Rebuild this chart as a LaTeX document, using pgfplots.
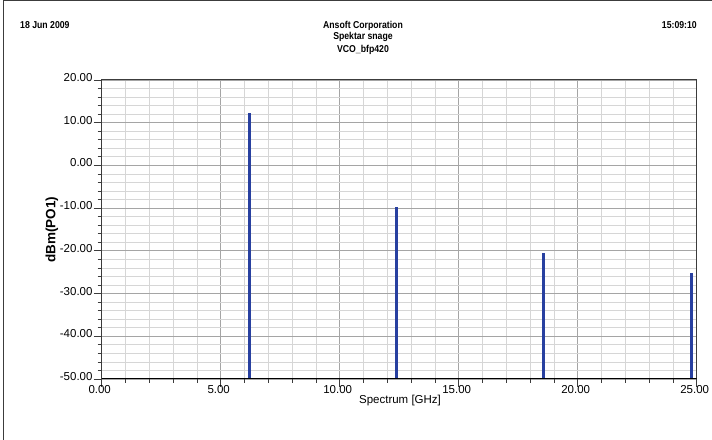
\documentclass[border=0pt]{standalone}
\usepackage{fontspec}
\setmainfont{Liberation Sans}
\usepackage{pgfplots}
\pgfplotsset{compat=1.18}
\definecolor{spike}{RGB}{40,64,160}
\definecolor{majgrid}{RGB}{165,165,165}
\definecolor{mingrid}{RGB}{214,214,214}
\definecolor{frame}{RGB}{60,60,60}
\newcommand{\hdr}[1]{\scalebox{0.87}[1]{\fontsize{10bp}{12bp}\selectfont\bfseries #1}}
\begin{document}
\begin{tikzpicture}[x=1bp,y=1bp]
\path[use as bounding box] (0,0) rectangle (712,440);
\coordinate (O) at (101.7,61);
\draw[frame, line width=1bp] (3.5,0) -- (3.5,439.5) -- (712,439.5);
\node[anchor=base west, inner sep=0] at (20,411.7) {\hdr{18 Jun 2009}};
\node[anchor=base east, inner sep=0] at (697,411.7) {\hdr{15:09:10}};
\node[anchor=base, inner sep=0] at (363,411.7) {\hdr{Ansoft Corporation}};
\node[anchor=base, inner sep=0] at (363,400) {\hdr{Spektar snage}};
\node[anchor=base, inner sep=0] at (363,387.7) {\hdr{VCO\_bfp420}};
\begin{axis}[at={(O)}, anchor=south west, scale only axis,
  width=595bp, height=299bp,
  xmin=0, xmax=25, ymin=-50, ymax=20,
  xtick={0,5,...,25}, ytick={-50,-40,...,20},
  minor x tick num=4, minor y tick num=4,
  grid=both,
  major grid style={majgrid, line width=0.8bp},
  minor grid style={mingrid, line width=0.8bp},
  axis line style={frame, line width=1bp},
  tick align=outside, tick pos=left,
  major tick length=8bp, minor tick length=4bp,
  tick style={frame, line width=0.8bp},
  /pgf/number format/.cd, fixed, fixed zerofill, precision=2, assume math mode=true,
  /pgfplots/.cd,
  xticklabel style={font=\fontsize{11.5bp}{13bp}\selectfont, anchor=north, inner sep=0pt, yshift=2bp, xshift=-2bp},
  yticklabel style={font=\fontsize{11.5bp}{13bp}\selectfont, anchor=base east, inner sep=0pt, xshift=-1bp, yshift=-1.5bp},
]
\addplot[spike, line width=3bp, unbounded coords=jump] coordinates {
  (6.19,-50) (6.19,12.2) (6.19,nan)
  (12.38,-50) (12.38,-9.7) (12.38,nan)
  (18.57,-50) (18.57,-20.4) (18.57,nan)
  (24.76,-50) (24.76,-25.1)
};
\draw[black, line width=1.5bp] (axis cs:0,-50) -- (axis cs:25,-50);
\end{axis}
\node[rotate=90, inner sep=0, font=\fontsize{13.5bp}{15bp}\selectfont\bfseries] at (52,210) {dBm(PO1)};
\node[anchor=base, inner sep=0, font=\fontsize{11.5bp}{13bp}\selectfont] at (400,36) {Spectrum [GHz]};
\end{tikzpicture}
\end{document}
